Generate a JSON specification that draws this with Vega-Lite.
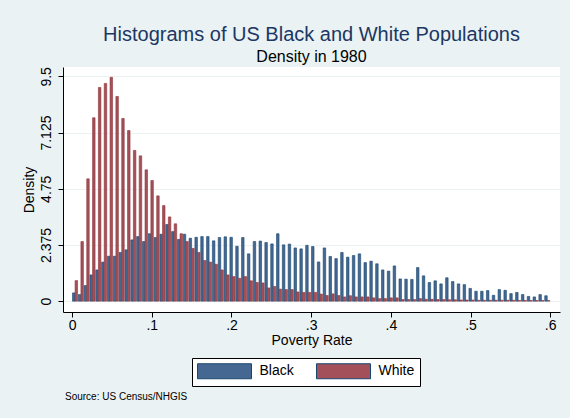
{
"$schema": "https://vega.github.io/schema/vega-lite/v6.json",
"background": "#EAF2F3",
"padding": {"left": 22, "top": 24, "right": 15, "bottom": 20},
"config": {"font": "Liberation Sans", "view": {"stroke": null, "fill": "white"}},
"title": {"text": "Source: US Census/NHGIS", "orient": "bottom", "anchor": "start", "frame": "group", "fontSize": 10, "fontWeight": "normal", "color": "black", "offset": 5, "dx": 2},
"resolve": {"scale": {"color": "independent"}, "legend": {"color": "independent"}},
"datasets": {"hist": [
{"group":"Black","rate":0.00366,"density":0.35},{"group":"Black","rate":0.01098,"density":0.28},{"group":"Black","rate":0.01829,"density":0.66},{"group":"Black","rate":0.02561,"density":1.11},{"group":"Black","rate":0.03293,"density":1.32},{"group":"Black","rate":0.04024,"density":1.65},{"group":"Black","rate":0.04756,"density":1.90},{"group":"Black","rate":0.05488,"density":1.90},{"group":"Black","rate":0.06220,"density":2.06},{"group":"Black","rate":0.06951,"density":2.17},
{"group":"Black","rate":0.07683,"density":2.59},{"group":"Black","rate":0.08415,"density":2.73},{"group":"Black","rate":0.09146,"density":2.52},{"group":"Black","rate":0.09878,"density":2.85},{"group":"Black","rate":0.10610,"density":2.69},{"group":"Black","rate":0.11341,"density":2.83},{"group":"Black","rate":0.12073,"density":3.24},{"group":"Black","rate":0.12805,"density":2.94},{"group":"Black","rate":0.13537,"density":2.61},{"group":"Black","rate":0.14268,"density":2.83},
{"group":"Black","rate":0.15000,"density":2.66},{"group":"Black","rate":0.15732,"density":2.70},{"group":"Black","rate":0.16463,"density":2.73},{"group":"Black","rate":0.17195,"density":2.73},{"group":"Black","rate":0.17927,"density":2.55},{"group":"Black","rate":0.18659,"density":2.69},{"group":"Black","rate":0.19390,"density":2.72},{"group":"Black","rate":0.20122,"density":2.70},{"group":"Black","rate":0.20854,"density":2.32},{"group":"Black","rate":0.21585,"density":2.69},
{"group":"Black","rate":0.22317,"density":2.00},{"group":"Black","rate":0.23049,"density":2.52},{"group":"Black","rate":0.23780,"density":2.54},{"group":"Black","rate":0.24512,"density":2.48},{"group":"Black","rate":0.25244,"density":2.42},{"group":"Black","rate":0.25976,"density":2.85},{"group":"Black","rate":0.26707,"density":2.38},{"group":"Black","rate":0.27439,"density":2.41},{"group":"Black","rate":0.28171,"density":2.25},{"group":"Black","rate":0.28902,"density":2.21},
{"group":"Black","rate":0.29634,"density":2.36},{"group":"Black","rate":0.30366,"density":2.31},{"group":"Black","rate":0.31098,"density":1.66},{"group":"Black","rate":0.31829,"density":2.25},{"group":"Black","rate":0.32561,"density":1.89},{"group":"Black","rate":0.33293,"density":1.80},{"group":"Black","rate":0.34024,"density":2.06},{"group":"Black","rate":0.34756,"density":1.86},{"group":"Black","rate":0.35488,"density":1.93},{"group":"Black","rate":0.36220,"density":2.00},
{"group":"Black","rate":0.36951,"density":1.63},{"group":"Black","rate":0.37683,"density":1.69},{"group":"Black","rate":0.38415,"density":1.58},{"group":"Black","rate":0.39146,"density":1.32},{"group":"Black","rate":0.39878,"density":1.27},{"group":"Black","rate":0.40610,"density":1.49},{"group":"Black","rate":0.41341,"density":0.94},{"group":"Black","rate":0.42073,"density":0.93},{"group":"Black","rate":0.42805,"density":0.92},{"group":"Black","rate":0.43537,"density":1.42},
{"group":"Black","rate":0.44268,"density":1.07},{"group":"Black","rate":0.45000,"density":0.79},{"group":"Black","rate":0.45732,"density":0.86},{"group":"Black","rate":0.46463,"density":0.73},{"group":"Black","rate":0.47195,"density":0.99},{"group":"Black","rate":0.47927,"density":0.83},{"group":"Black","rate":0.48659,"density":0.73},{"group":"Black","rate":0.49390,"density":0.70},{"group":"Black","rate":0.50122,"density":0.54},{"group":"Black","rate":0.50854,"density":0.42},
{"group":"Black","rate":0.51585,"density":0.42},{"group":"Black","rate":0.52317,"density":0.45},{"group":"Black","rate":0.53049,"density":0.25},{"group":"Black","rate":0.53780,"density":0.49},{"group":"Black","rate":0.54512,"density":0.46},{"group":"Black","rate":0.55244,"density":0.32},{"group":"Black","rate":0.55976,"density":0.37},{"group":"Black","rate":0.56707,"density":0.28},{"group":"Black","rate":0.57439,"density":0.20},{"group":"Black","rate":0.58171,"density":0.18},
{"group":"Black","rate":0.58902,"density":0.28},{"group":"Black","rate":0.59634,"density":0.23},
{"group":"White","rate":0.00366,"density":0.87},{"group":"White","rate":0.01098,"density":2.52},{"group":"White","rate":0.01829,"density":5.17},{"group":"White","rate":0.02561,"density":7.75},{"group":"White","rate":0.03293,"density":9.03},{"group":"White","rate":0.04024,"density":9.20},{"group":"White","rate":0.04756,"density":9.46},{"group":"White","rate":0.05488,"density":8.65},{"group":"White","rate":0.06220,"density":7.72},{"group":"White","rate":0.06951,"density":7.21},
{"group":"White","rate":0.07683,"density":6.37},{"group":"White","rate":0.08415,"density":6.14},{"group":"White","rate":0.09146,"density":5.55},{"group":"White","rate":0.09878,"density":5.10},{"group":"White","rate":0.10610,"density":4.45},{"group":"White","rate":0.11341,"density":4.04},{"group":"White","rate":0.12073,"density":3.56},{"group":"White","rate":0.12805,"density":3.27},{"group":"White","rate":0.13537,"density":2.85},{"group":"White","rate":0.14268,"density":2.52},
{"group":"White","rate":0.15000,"density":2.23},{"group":"White","rate":0.15732,"density":2.06},{"group":"White","rate":0.16463,"density":1.72},{"group":"White","rate":0.17195,"density":1.65},{"group":"White","rate":0.17927,"density":1.56},{"group":"White","rate":0.18659,"density":1.32},{"group":"White","rate":0.19390,"density":1.11},{"group":"White","rate":0.20122,"density":1.04},{"group":"White","rate":0.20854,"density":0.97},{"group":"White","rate":0.21585,"density":1.04},
{"group":"White","rate":0.22317,"density":0.86},{"group":"White","rate":0.23049,"density":0.79},{"group":"White","rate":0.23780,"density":0.77},{"group":"White","rate":0.24512,"density":0.56},{"group":"White","rate":0.25244,"density":0.62},{"group":"White","rate":0.25976,"density":0.51},{"group":"White","rate":0.26707,"density":0.49},{"group":"White","rate":0.27439,"density":0.49},{"group":"White","rate":0.28171,"density":0.39},{"group":"White","rate":0.28902,"density":0.37},
{"group":"White","rate":0.29634,"density":0.37},{"group":"White","rate":0.30366,"density":0.37},{"group":"White","rate":0.31098,"density":0.30},{"group":"White","rate":0.31829,"density":0.24},{"group":"White","rate":0.32561,"density":0.31},{"group":"White","rate":0.33293,"density":0.24},{"group":"White","rate":0.34024,"density":0.18},{"group":"White","rate":0.34756,"density":0.23},{"group":"White","rate":0.35488,"density":0.18},{"group":"White","rate":0.36220,"density":0.18},
{"group":"White","rate":0.36951,"density":0.18},{"group":"White","rate":0.37683,"density":0.14},{"group":"White","rate":0.38415,"density":0.11},{"group":"White","rate":0.39146,"density":0.11},{"group":"White","rate":0.39878,"density":0.14},{"group":"White","rate":0.40610,"density":0.14},{"group":"White","rate":0.41341,"density":0.07},{"group":"White","rate":0.42073,"density":0.07},{"group":"White","rate":0.42805,"density":0.07},{"group":"White","rate":0.43537,"density":0.11},
{"group":"White","rate":0.44268,"density":0.08},{"group":"White","rate":0.45000,"density":0.08},{"group":"White","rate":0.45732,"density":0.07},{"group":"White","rate":0.46463,"density":0.07},{"group":"White","rate":0.47195,"density":0.06},{"group":"White","rate":0.47927,"density":0.06},{"group":"White","rate":0.48659,"density":0.05},{"group":"White","rate":0.49390,"density":0.05},{"group":"White","rate":0.50122,"density":0.05},{"group":"White","rate":0.50854,"density":0.04},
{"group":"White","rate":0.51585,"density":0.04},{"group":"White","rate":0.52317,"density":0.04},{"group":"White","rate":0.53049,"density":0.04},{"group":"White","rate":0.53780,"density":0.04},{"group":"White","rate":0.54512,"density":0.04},{"group":"White","rate":0.55244,"density":0.04},{"group":"White","rate":0.55976,"density":0.03},{"group":"White","rate":0.56707,"density":0.03},{"group":"White","rate":0.57439,"density":0.03},{"group":"White","rate":0.58171,"density":0.03},
{"group":"White","rate":0.58902,"density":0.03},{"group":"White","rate":0.59634,"density":0.03}
]},
"vconcat": [{
  "width": 497,
  "height": 245,
  "title": {"text": "Histograms of US Black and White Populations", "subtitle": "Density in 1980", "anchor": "middle", "frame": "group", "fontSize": 20, "fontWeight": "normal", "color": "#1c3764", "subtitleFontSize": 16, "subtitleColor": "black", "subtitlePadding": 4, "offset": 2},
  "data": {"name": "hist"},
  "encoding": {
    "x": {"field": "rate", "type": "quantitative", "scale": {"domain": [-0.01143, 0.6123], "nice": false, "zero": false, "padding": 0},
      "axis": {"title": "Poverty Rate", "values": [0, 0.1, 0.2, 0.3, 0.4, 0.5, 0.6], "labelExpr": "datum.value == 0 ? '0' : replace(format(datum.value, '.1f'), '0.', '.')", "grid": false, "tickSize": 5, "labelPadding": 1, "titlePadding": 1, "labelFontSize": 14, "titleFontSize": 14, "titleFontWeight": "normal", "labelColor": "black", "titleColor": "black", "domainColor": "black", "tickColor": "black", "labelFlush": false}},
    "y": {"field": "density", "type": "quantitative", "scale": {"domain": [-0.457, 9.894], "nice": false, "zero": false},
      "axis": {"title": "Density", "values": [0, 2.375, 4.75, 7.125, 9.5], "labelExpr": "'' + datum.value", "grid": true, "gridColor": "#EAF2F3", "tickSize": 5, "labelAngle": -90, "labelAlign": "center", "labelBaseline": "alphabetic", "labelPadding": 8, "titlePadding": 3, "labelFontSize": 14, "titleFontSize": 14, "titleFontWeight": "normal", "labelColor": "black", "titleColor": "black", "domainColor": "black", "tickColor": "black", "labelFlush": false}}
  },
  "layer": [
    {"transform": [{"filter": "datum.group === 'Black'"}],
     "mark": {"type": "bar", "width": 2.5, "xOffset": -1.3, "stroke": "#1a476f", "strokeWidth": 0.6},
     "encoding": {"color": {"field": "group", "type": "nominal", "scale": {"domain": ["Black", "White"], "range": ["#446891", "#a3505a"]},
       "legend": {"orient": "none", "legendX": 129, "legendY": 291, "direction": "horizontal", "title": null, "symbolType": "M-3.6,-1H3.6V1H-3.6Z", "symbolSize": 225, "symbolOffset": 19.5, "labelOffset": 27, "labelFontSize": 14, "labelColor": "black", "columnPadding": 20, "padding": 5, "strokeColor": "black", "fillColor": "white", "symbolOpacity": 1, "symbolStrokeWidth": 1,
         "encode": {"symbols": {"update": {"stroke": {"signal": "datum.value === 'Black' ? '#1a476f' : '#90353b'"}}}}}}}},
    {"transform": [{"filter": "datum.group === 'White'"}],
     "mark": {"type": "bar", "width": 2.5, "xOffset": 1.3, "stroke": "#90353b", "strokeWidth": 0.6},
     "encoding": {"color": {"field": "group", "type": "nominal"}}}
  ]
}]
}
